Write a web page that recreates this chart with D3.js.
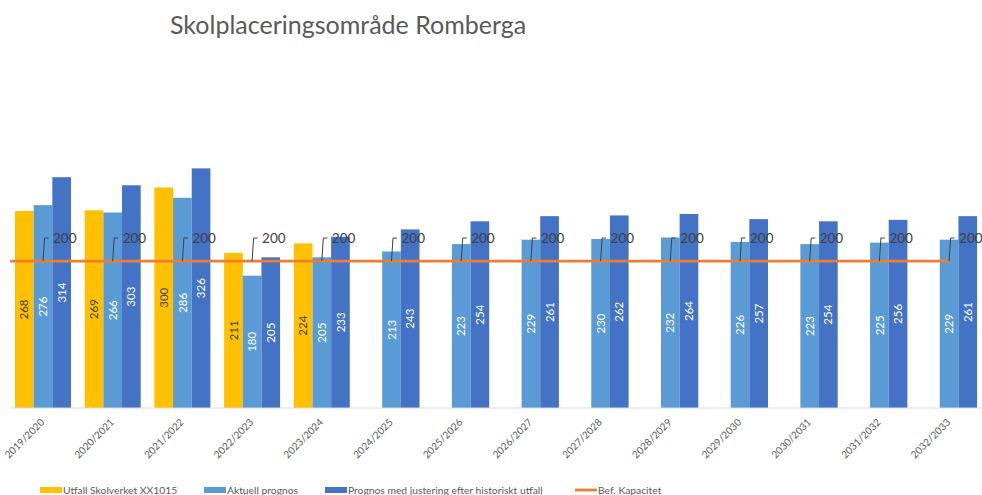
<!DOCTYPE html>
<html>
<head>
<meta charset="utf-8">
<script src="https://cdn.jsdelivr.net/npm/d3@7/dist/d3.min.js"></script>
<style>
  html, body { margin: 0; padding: 0; background: #fff; }
  svg { display: block; font-family: Lato, "Open Sans", sans-serif; }
</style>
</head>
<body>
<svg id="chart" width="982" height="495"></svg>
<script>
// Läsår
const years = ["2019/2020", "2020/2021", "2021/2022", "2022/2023", "2023/2024",
  "2024/2025", "2025/2026", "2026/2027", "2027/2028", "2028/2029",
  "2029/2030", "2030/2031", "2031/2032", "2032/2033"];

// Elevantal per serie
const utfall    = [268, 269, 300, 211, 224, null, null, null, null, null, null, null, null, null];
const aktuell   = [276, 266, 286, 180, 205, 213, 223, 229, 230, 232, 226, 223, 225, 229];
const justerad  = [314, 303, 326, 205, 233, 243, 254, 261, 262, 264, 257, 254, 256, 261];
const kapacitet = [200, 200, 200, 200, 200, 200, 200, 200, 200, 200, 200, 200, 200, 200];

const seriesNames = ["Utfall Skolverket XX1015", "Aktuell prognos",
  "Prognos med justering efter historiskt utfall", "Bef. Kapacitet"];
const title = "Skolplaceringsområde Romberga";

const barSeries = [
  { key: "utfall",   name: seriesNames[0], values: utfall,   color: "#FFC000", label: "#404040" },
  { key: "aktuell",  name: seriesNames[1], values: aktuell,  color: "#5B9BD5", label: "#ffffff" },
  { key: "justerad", name: seriesNames[2], values: justerad, color: "#4472C4", label: "#ffffff" }
];
const lineColor = "#ED7D31";

const svg = d3.select("#chart");

// Scales
const x0 = d3.scaleBand().domain(years).range([8.15, 983.95])
  .paddingInner(0.197).paddingOuter(0.0985);
const x1 = d3.scaleBand().domain(barSeries.map(s => s.key)).range([0, x0.bandwidth()]);
const y = d3.scaleLinear().domain([0, 400]).range([408, 114]);

// Title
svg.append("text")
  .attr("x", 170).attr("y", 34)
  .attr("font-size", 25).attr("fill", "#595959")
  .text(title);

// Bars
const groups = svg.append("g").selectAll("g")
  .data(years).join("g")
  .attr("transform", d => `translate(${x0(d)},0)`);

barSeries.forEach(s => {
  groups.filter((d, i) => s.values[i] != null)
    .append("rect")
    .attr("x", x1(s.key))
    .attr("width", x1.bandwidth())
    .attr("y", (d) => y(s.values[years.indexOf(d)]))
    .attr("height", (d) => y(0) - y(s.values[years.indexOf(d)]))
    .attr("fill", s.color);
});

// Category axis
const xAxis = d3.axisBottom(x0).tickSize(0).tickPadding(0);
const axisG = svg.append("g").attr("transform", `translate(0,${y(0)})`).call(xAxis);
axisG.select(".domain").remove();
axisG.append("line")
  .attr("x1", x0.range()[0] + 2).attr("x2", 982)
  .attr("stroke", "#d9d9d9").attr("stroke-width", 1);
axisG.selectAll(".tick text")
  .attr("font-family", "Lato, 'Open Sans', sans-serif")
  .attr("font-size", 10)
  .attr("fill", "#595959")
  .attr("text-anchor", "end")
  .attr("dy", 0)
  .attr("transform", "translate(2,15) rotate(-45)");

// Capacity line
const cx = d => x0(d) + x0.bandwidth() / 2;
const linePts = [{ x: x0.range()[0] + 2, v: kapacitet[0] }]
  .concat(years.map((d, i) => ({ x: cx(d), v: kapacitet[i] })));
svg.append("path")
  .datum(linePts)
  .attr("fill", "none")
  .attr("stroke", lineColor)
  .attr("stroke-width", 2.75)
  .attr("d", d3.line().x(p => p.x).y(p => y(p.v)));

// Capacity labels with leader lines
const capLabels = svg.append("g").selectAll("g")
  .data(years).join("g");
capLabels.append("path")
  .attr("fill", "none").attr("stroke", "#404040").attr("stroke-width", 1)
  .attr("d", (d, i) => {
    const px = cx(d), py = y(kapacitet[i]);
    return `M${px},${py}L${px + 1.5},${py - 23}L${px + 5.5},${py - 23}`;
  });
capLabels.append("text")
  .attr("x", d => cx(d) + 10)
  .attr("y", (d, i) => y(kapacitet[i]) - 23)
  .attr("dy", "0.36em")
  .attr("font-size", 13.5)
  .attr("fill", "#404040")
  .text((d, i) => kapacitet[i]);

// Value labels inside bars
barSeries.forEach(s => {
  svg.append("g").selectAll("text")
    .data(years.filter((d, i) => s.values[i] != null))
    .join("text")
    .attr("transform", d => {
      const v = s.values[years.indexOf(d)];
      const bx = x0(d) + x1(s.key) + x1.bandwidth() / 2;
      const by = (y(v) + y(0)) / 2;
      return `translate(${bx},${by}) rotate(-90)`;
    })
    .attr("text-anchor", "middle")
    .attr("dy", "0.36em")
    .attr("font-size", 11.5)
    .attr("fill", s.label)
    .text(d => s.values[years.indexOf(d)]);
});

// Legend
const legendX = [40, 204, 325, 575];
const legend = svg.append("g").attr("transform", "translate(0,490)");
const legendItems = barSeries.map(s => ({ name: s.name, color: s.color, type: "bar" }))
  .concat([{ name: seriesNames[3], color: lineColor, type: "line" }]);
legendItems.forEach((it, i) => {
  const g = legend.append("g").attr("transform", `translate(${legendX[i]},0)`);
  if (it.type === "bar") {
    g.append("rect").attr("x", 0).attr("y", -3).attr("width", 22).attr("height", 6).attr("fill", it.color);
  } else {
    g.append("line").attr("x1", 0).attr("x2", 22).attr("y1", 0).attr("y2", 0)
      .attr("stroke", it.color).attr("stroke-width", 2.75);
  }
  g.append("text").attr("x", 23).attr("dy", "0.35em")
    .attr("font-size", 10.3).attr("fill", "#595959").text(it.name);
});
</script>
</body>
</html>
